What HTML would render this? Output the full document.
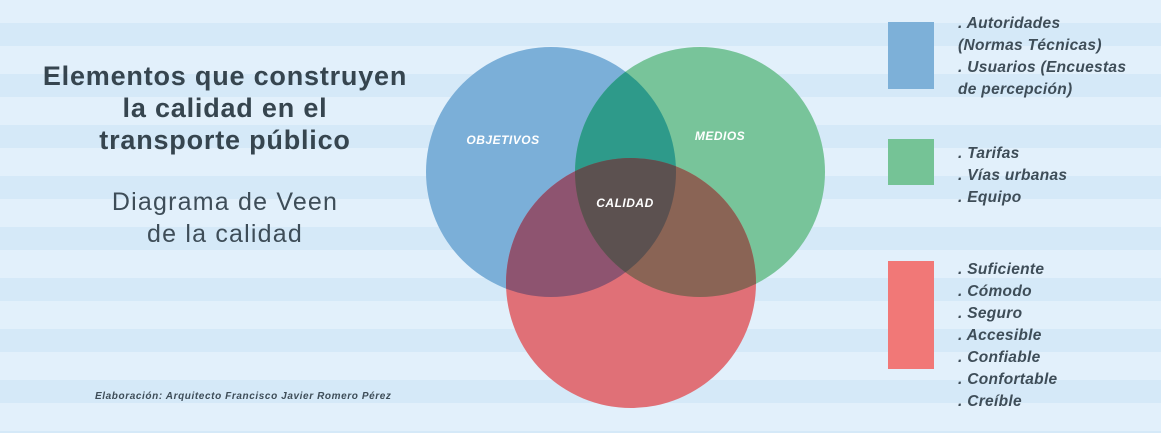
<!DOCTYPE html>
<html><head><meta charset="utf-8"><style>
body{margin:0;width:1161px;height:433px;overflow:hidden;font-family:"Liberation Sans",sans-serif;color:#3a4a55;
background:repeating-linear-gradient(180deg,#e2f0fb 0px,#e2f0fb 23px,#d5e9f8 23px,#d5e9f8 46px,#e2f0fb 46px,#e2f0fb 51px);position:relative}
.t{position:absolute;left:20px;width:410px;text-align:center}
.leg{position:absolute;left:958px;font-style:italic;font-weight:bold;font-size:15.5px;line-height:22px;color:#3e4d58;letter-spacing:0.3px}
.sq{position:absolute;left:888px;width:46px}
</style></head><body>
<div class="t" style="top:60px;font-size:27px;font-weight:bold;line-height:32px;color:#36454f;letter-spacing:0.8px">Elementos que construyen<br>la calidad en el<br>transporte público</div>
<div class="t" style="top:186px;font-size:25px;line-height:32px;color:#3e4d58;letter-spacing:1.2px">Diagrama de Veen<br>de la calidad</div>
<div style="position:absolute;left:95px;top:391px;font-size:10px;font-style:italic;font-weight:bold;color:#3e4d58;letter-spacing:0.6px">Elaboración: Arquitecto Francisco Javier Romero Pérez</div>
<svg style="position:absolute;left:0;top:0" width="1161" height="433">
<defs>
<clipPath id="cb"><circle cx="551" cy="172" r="125"/></clipPath>
<clipPath id="cg"><circle cx="700" cy="172" r="125"/></clipPath>
<clipPath id="cr"><circle cx="631" cy="283" r="125"/></clipPath>
</defs>
<circle cx="551" cy="172" r="125" fill="#7bafd8"/>
<circle cx="700" cy="172" r="125" fill="#78c49a"/>
<circle cx="631" cy="283" r="125" fill="#e07077"/>
<g clip-path="url(#cb)"><circle cx="700" cy="172" r="125" fill="#2e9a8a"/></g>
<g clip-path="url(#cb)"><circle cx="631" cy="283" r="125" fill="#8e5470"/></g>
<g clip-path="url(#cg)"><circle cx="631" cy="283" r="125" fill="#8a6455"/></g>
<g clip-path="url(#cb)"><g clip-path="url(#cg)"><circle cx="631" cy="283" r="125" fill="#5c5150"/></g></g>
<g font-family="Liberation Sans" font-style="italic" font-weight="bold" font-size="12" fill="#fff" text-anchor="middle" letter-spacing="0.5">
<text x="503" y="144">OBJETIVOS</text><text x="720" y="140">MEDIOS</text><text x="625" y="207">CALIDAD</text></g>
</svg>
<div class="sq" style="top:22px;height:67px;background:#7db0d8"></div>
<div class="sq" style="top:139px;height:46px;background:#75c396"></div>
<div class="sq" style="top:261px;height:108px;background:#f17877"></div>
<div class="leg" style="top:13px">. Autoridades<br>(Normas Técnicas)<br>. Usuarios (Encuestas<br>de percepción)</div>
<div class="leg" style="top:143px">. Tarifas<br>. Vías urbanas<br>. Equipo</div>
<div class="leg" style="top:259px">. Suficiente<br>. Cómodo<br>. Seguro<br>. Accesible<br>. Confiable<br>. Confortable<br>. Creíble</div>
</body></html>
